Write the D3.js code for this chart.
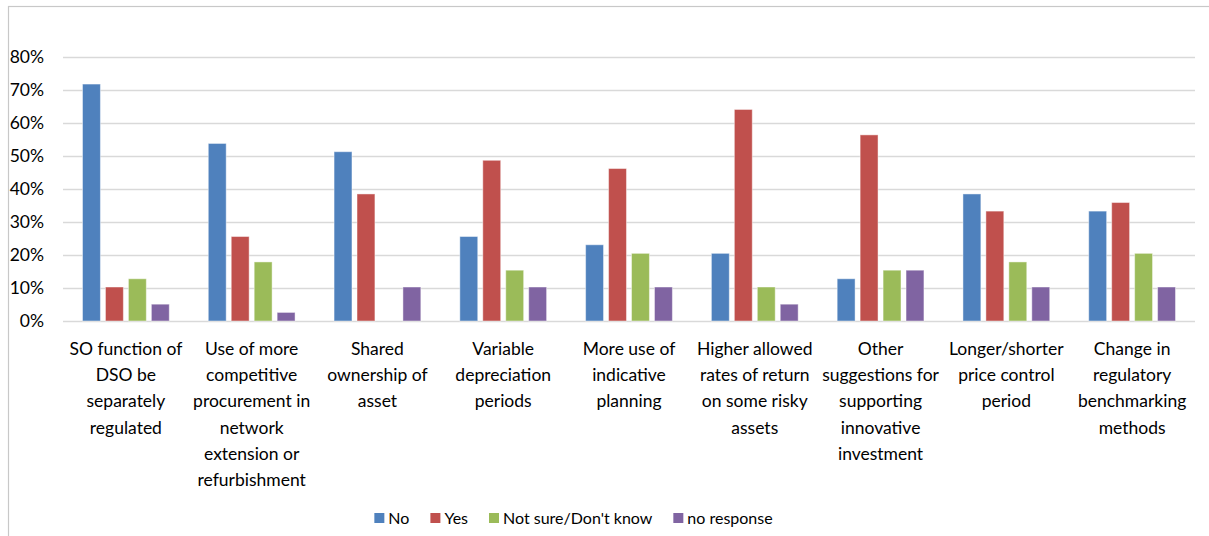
<!DOCTYPE html>
<html>
<head>
<meta charset="utf-8">
<script src="https://cdn.jsdelivr.net/npm/d3@7"></script>
<style>
  html, body { margin: 0; padding: 0; background: #fff; }
  svg { display: block; }
  text { font-family: Lato, "Open Sans", sans-serif; fill: #000; }
</style>
</head>
<body>
<svg id="chart" width="1209" height="536"></svg>
<script>
const categories = [
  "SO function of\nDSO be\nseparately\nregulated",
  "Use of more\ncompetitive\nprocurement in\nnetwork\nextension or\nrefurbishment",
  "Shared\nownership of\nasset",
  "Variable\ndepreciation\nperiods",
  "More use of\nindicative\nplanning",
  "Higher allowed\nrates of return\non some risky\nassets",
  "Other\nsuggestions for\nsupporting\ninnovative\ninvestment",
  "Longer/shorter\nprice control\nperiod",
  "Change in\nregulatory\nbenchmarking\nmethods"
];
const seriesNames = ["No", "Yes", "Not sure/Don't know", "no response"];
const noValues       = [0.718, 0.538, 0.513, 0.256, 0.231, 0.205, 0.128, 0.385, 0.333];
const yesValues      = [0.103, 0.256, 0.385, 0.487, 0.462, 0.641, 0.564, 0.333, 0.359];
const notSureValues  = [0.128, 0.179, 0.000, 0.154, 0.205, 0.103, 0.154, 0.179, 0.205];
const noRespValues   = [0.051, 0.026, 0.103, 0.103, 0.103, 0.051, 0.154, 0.103, 0.103];
const yTicks = [0, 0.1, 0.2, 0.3, 0.4, 0.5, 0.6, 0.7, 0.8];
const colors = ["#4F81BD", "#C0504D", "#9BBB59", "#8064A2"];

const seriesValues = [noValues, yesValues, notSureValues, noRespValues];
const svg = d3.select("#chart");

// chart border
svg.append("rect").attr("x", 8.5).attr("y", 6.5).attr("width", 1210).attr("height", 540)
  .attr("fill", "none").attr("stroke", "#c8c8c8").attr("stroke-width", 1.2);

const plot = { left: 63, right: 1195, top: 57, bottom: 321 };

const y = d3.scaleLinear().domain([0, 0.8]).range([plot.bottom, plot.top]);
const x0 = d3.scaleBand().domain(d3.range(categories.length))
  .range([plot.left, plot.right]).paddingInner(0.27).paddingOuter(0.135);
const x1 = d3.scaleBand().domain(d3.range(seriesNames.length))
  .range([0, x0.bandwidth()]).paddingInner(0.22).paddingOuter(0.11);

// gridlines
const yAxis = d3.axisLeft(y).tickValues(yTicks).tickFormat(d3.format(".0%"))
  .tickSize(-(plot.right - plot.left)).tickPadding(19);
const gy = svg.append("g").attr("transform", `translate(${plot.left},0)`).call(yAxis);
gy.select(".domain").remove();
gy.selectAll(".tick line").attr("stroke", "#d9d9d9").attr("stroke-width", 1.5);
gy.selectAll(".tick text").attr("font-size", "17.5px").attr("fill", "#000")
  .attr("font-family", "Lato, 'Open Sans', sans-serif");

// bars
const groups = svg.append("g").selectAll("g").data(categories).join("g")
  .attr("transform", (d, i) => `translate(${x0(i)},0)`);
groups.selectAll("rect")
  .data((d, i) => seriesValues.map((vals, s) => ({ s, v: vals[i] })))
  .join("rect")
  .filter(d => d.v > 0)
  .attr("x", d => x1(d.s))
  .attr("width", x1.bandwidth())
  .attr("y", d => y(d.v))
  .attr("height", d => y(0) - y(d.v))
  .attr("fill", d => colors[d.s])
  .attr("stroke", "#ffffff").attr("stroke-opacity", 0.45).attr("stroke-width", 1);

// category labels
const labels = svg.append("g").selectAll("text").data(categories).join("text")
  .attr("x", (d, i) => x0(i) + x0.bandwidth() / 2)
  .attr("y", 355)
  .attr("text-anchor", "middle")
  .attr("font-size", "17.5px");
labels.each(function(d) {
  const t = d3.select(this);
  d.split("\n").forEach((line, k) => {
    t.append("tspan").attr("x", t.attr("x")).attr("dy", k === 0 ? 0 : 26.2).text(line);
  });
});

// legend
const legend = svg.append("g");
let lx = 0;
seriesNames.forEach((name, s) => {
  const g = legend.append("g");
  g.append("rect").attr("x", lx).attr("y", -11).attr("width", 10).attr("height", 10).attr("fill", colors[s]);
  const t = g.append("text").attr("x", lx + 14).attr("y", 0).attr("font-size", "16px").text(name);
  const w = t.node().getComputedTextLength();
  lx += 14 + w + 21;
});
const totalW = lx - 21;
legend.attr("transform", `translate(${573.5 - totalW / 2},524)`);
</script>
</body>
</html>
